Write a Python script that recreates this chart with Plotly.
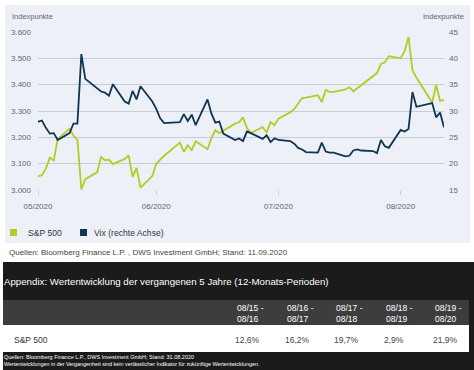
import plotly.graph_objects as go

# ---------------- data ----------------
dates = [
    "2020-05-29", "2020-06-01", "2020-06-02", "2020-06-03", "2020-06-04", "2020-06-05",
    "2020-06-08", "2020-06-09", "2020-06-10", "2020-06-11", "2020-06-12",
    "2020-06-15", "2020-06-16", "2020-06-17", "2020-06-18", "2020-06-19",
    "2020-06-22", "2020-06-23", "2020-06-24", "2020-06-25", "2020-06-26",
    "2020-06-29", "2020-06-30", "2020-07-01", "2020-07-02",
    "2020-07-06", "2020-07-07", "2020-07-08", "2020-07-09", "2020-07-10",
    "2020-07-13", "2020-07-14", "2020-07-15", "2020-07-16", "2020-07-17",
    "2020-07-20", "2020-07-21", "2020-07-22", "2020-07-23", "2020-07-24",
    "2020-07-27", "2020-07-28", "2020-07-29", "2020-07-30", "2020-07-31",
    "2020-08-03", "2020-08-04", "2020-08-05", "2020-08-06", "2020-08-07",
    "2020-08-10", "2020-08-11", "2020-08-12", "2020-08-13", "2020-08-14",
    "2020-08-17", "2020-08-18", "2020-08-19", "2020-08-20", "2020-08-21",
    "2020-08-24", "2020-08-25", "2020-08-26", "2020-08-27", "2020-08-28",
    "2020-08-31", "2020-09-01", "2020-09-02", "2020-09-03", "2020-09-04",
    "2020-09-08", "2020-09-09", "2020-09-10", "2020-09-11",
]
sp500 = [
    3044, 3056, 3081, 3123, 3112, 3194,
    3232, 3207, 3190, 3002, 3041,
    3067, 3125, 3113, 3115, 3098,
    3118, 3131, 3050, 3084, 3009,
    3053, 3100, 3116, 3130,
    3180, 3145, 3170, 3152, 3185,
    3155, 3198, 3227, 3216, 3225,
    3252, 3257, 3276, 3236, 3216,
    3239, 3218, 3258, 3246, 3271,
    3295, 3307, 3328, 3349, 3351,
    3360, 3334, 3380, 3373, 3373,
    3382, 3390, 3375, 3386, 3397,
    3431, 3444, 3479, 3485, 3508,
    3500, 3527, 3581, 3455, 3427,
    3332, 3399, 3339, 3341,
]
vix = [
    27.5, 28.2, 26.8, 25.7, 25.8, 24.5,
    25.8, 27.6, 27.6, 40.8, 36.1,
    34.4, 33.7, 33.5, 32.9, 35.1,
    31.8, 31.4, 33.8, 32.2, 34.7,
    31.8, 30.4, 28.6, 27.7,
    27.9, 29.4, 28.1, 29.3, 27.3,
    32.2, 29.5, 27.8, 28.0, 25.7,
    24.5, 24.8, 24.3, 26.1, 25.8,
    24.7, 25.4, 24.1, 24.8, 24.5,
    24.3, 23.8, 23.0, 22.7, 22.2,
    22.1, 24.0, 22.3, 22.1, 22.1,
    21.4, 21.5, 22.5, 22.7, 22.5,
    22.4, 22.0, 24.5, 23.3, 23.0,
    26.4, 26.1, 26.6, 33.6, 30.8,
    31.5, 28.8, 29.7, 26.9,
]
series_names = ["S&P 500", "Vix (rechte Achse)"]
month_ticks = ["2020-05-31", "2020-06-30", "2020-07-31", "2020-08-31"]
month_labels = ["05/2020", "06/2020", "07/2020", "08/2020"]
x_range = ["2020-05-31", "2020-09-11"]
left_range = [3000, 3600]
right_range = [15, 45]

periods = ["08/15 -<br>08/16", "08/16 -<br>08/17", "08/17 -<br>08/18", "08/18 -<br>08/19", "08/19 -<br>08/20"]
returns = ["12,6%", "16,2%", "19,7%", "2,9%", "21,9%"]
table_row_label = "S&P 500"

source_chart = "Quellen: Bloomberg Finance L.P. , DWS Investment GmbH; Stand: 11.09.2020"
appendix_title = "Appendix: Wertentwicklung der vergangenen 5 Jahre (12-Monats-Perioden)"
footer1 = "Quellen: Bloomberg Finance L.P., DWS Investment GmbH; Stand: 31.08.2020"
footer2 = "Wertentwicklungen in der Vergangenheit sind kein verlässlicher Indikator für zukünftige Wertentwicklungen."

# ---------------- styling / layout ----------------
W_FIG, H_FIG = 474, 370
L, R, T, B = 38, 444, 32, 190
PW, PH = R - L, B - T

LIME = "#b3cb23"
NAVY = "#0f3550"
PANEL = "#edf1f7"
GRID = "#c6cdd5"
FONT = "Liberation Sans, Arial, sans-serif"


def px(x):
    return (x - L) / PW


def py(y):
    return (B - y) / PH


fig = go.Figure()
fig.add_trace(go.Scatter(x=dates, y=sp500, name=series_names[0], mode="lines",
                         line=dict(color=LIME, width=1.8), yaxis="y"))
fig.add_trace(go.Scatter(x=dates, y=vix, name=series_names[1], mode="lines",
                         line=dict(color=NAVY, width=1.8), yaxis="y2"))

shapes = [
    # chart panel
    dict(type="rect", xref="paper", yref="paper", x0=px(5), x1=px(470), y0=py(243), y1=py(5),
         fillcolor=PANEL, line=dict(width=0), layer="below"),
    # dark appendix block
    dict(type="rect", xref="paper", yref="paper", x0=px(3), x1=px(474), y0=py(370), y1=py(262),
         fillcolor="#1b1b1b", line=dict(width=0), layer="below"),
    # table header row
    dict(type="rect", xref="paper", yref="paper", x0=px(3), x1=px(469), y0=py(325), y1=py(300),
         fillcolor="#3d3d3d", line=dict(width=0), layer="below"),
    # table body row
    dict(type="rect", xref="paper", yref="paper", x0=px(3), x1=px(469), y0=py(352), y1=py(325),
         fillcolor="#ffffff", line=dict(width=0), layer="below"),
    # legend swatches
    dict(type="rect", xref="paper", yref="paper", x0=px(10), x1=px(17), y0=py(236), y1=py(229),
         fillcolor=LIME, line=dict(width=0)),
    dict(type="rect", xref="paper", yref="paper", x0=px(80), x1=px(87), y0=py(236), y1=py(229),
         fillcolor=NAVY, line=dict(width=0)),
]

annotations = [
    dict(text="Indexpunkte", x=px(10), y=py(17), xanchor="left", yanchor="middle",
         font=dict(size=7.5, color="#666")),
    dict(text="Indexpunkte", x=px(466), y=py(17), xanchor="right", yanchor="middle",
         font=dict(size=7.5, color="#666")),
    dict(text=series_names[0], x=px(26), y=py(232.5), xanchor="left", yanchor="middle",
         font=dict(size=8.6, color="#333")),
    dict(text=series_names[1], x=px(92), y=py(232.5), xanchor="left", yanchor="middle",
         font=dict(size=8.6, color="#333")),
    dict(text=source_chart, x=px(7), y=py(253), xanchor="left", yanchor="middle",
         font=dict(size=8, color="#444")),
    dict(text=appendix_title, x=px(2), y=py(281), xanchor="left", yanchor="middle",
         font=dict(size=9.7, color="#ffffff")),
    dict(text=table_row_label, x=px(12), y=py(340), xanchor="left", yanchor="middle",
         font=dict(size=8.5, color="#333")),
    dict(text=footer1, x=px(2), y=py(357), xanchor="left", yanchor="middle",
         font=dict(size=5.5, color="#ffffff")),
    dict(text=footer2, x=px(2), y=py(364), xanchor="left", yanchor="middle",
         font=dict(size=5.4, color="#ffffff")),
]
col_x = [234, 284, 333, 383, 432]
for cx, per, ret in zip(col_x, periods, returns):
    annotations.append(dict(text=per, x=px(cx + 1), y=py(313), xanchor="left", yanchor="middle",
                            align="left", font=dict(size=8.5, color="#ffffff")))
    annotations.append(dict(text=ret, x=px(cx - 1), y=py(340), xanchor="left", yanchor="middle",
                            font=dict(size=8.5, color="#444")))
for a in annotations:
    a.update(xref="paper", yref="paper", showarrow=False)

fig.update_layout(
    width=W_FIG, height=H_FIG,
    margin=dict(l=L, r=W_FIG - R, t=T, b=H_FIG - B, pad=0),
    paper_bgcolor="#ffffff",
    plot_bgcolor=PANEL,
    font=dict(family=FONT, size=8, color="#555"),
    separators=",.",
    showlegend=False,
    shapes=shapes,
    annotations=annotations,
    xaxis=dict(type="date", range=x_range, tickvals=month_ticks, ticktext=month_labels,
               showgrid=False, zeroline=False, showline=False, ticks="outside",
               ticklen=4, tickcolor=GRID, tickfont=dict(size=8, color="#666"),
               ticklabelstandoff=4),
    yaxis=dict(range=left_range, dtick=100, tickformat=",d", showgrid=True, gridcolor=GRID,
               gridwidth=1, zeroline=False, showline=False, tickfont=dict(size=8, color="#666"),
               ticklabelstandoff=6),
    yaxis2=dict(range=right_range, dtick=5, overlaying="y", side="right", showgrid=False,
                zeroline=False, showline=False, tickfont=dict(size=8, color="#666"),
                ticklabelstandoff=4),
)

fig.write_html(
    "out.html",
    config={"displayModeBar": False},
    post_script="document.body.style.margin='0';document.body.style.overflow='hidden';",
)
